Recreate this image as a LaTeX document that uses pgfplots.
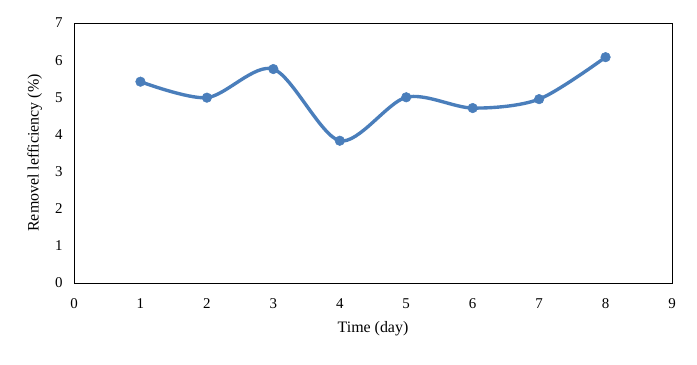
\documentclass[border=0pt]{standalone}
\usepackage{pgfplots}
\pgfplotsset{compat=1.18}
\usepackage{fontspec}
\setmainfont{Liberation Serif}
\definecolor{lineblue}{HTML}{4A7EBB}
\begin{document}
\begin{tikzpicture}[x=1bp,y=1bp]
\path[use as bounding box] (0,0) rectangle (697,364);
\begin{axis}[
  at={(74bp,81bp)}, anchor=south west,
  scale only axis, width=598bp, height=260bp,
  xmin=0, xmax=9, ymin=0, ymax=7,
  xtick={0,...,9}, ytick={0,...,7},
  major tick length=0pt,
  axis line style={line width=1pt, black},
  tick label style={font=\fontsize{15}{17}\selectfont},
  /pgf/number format/assume math mode=true,
  xticklabel style={yshift=-12bp},
  yticklabel style={xshift=-8bp},
  xlabel={Time (day)},
  ylabel={Removel lefficiency (\%)},
  label style={font=\fontsize{16}{18}\selectfont},
  xlabel style={yshift=-6bp},
  ylabel style={yshift=6bp},
]
\addplot[color=lineblue, line width=3.4pt, smooth, tension=0.5,
  mark=*, mark size=4.8bp, mark options={fill=lineblue, draw=lineblue, line width=0.5pt}]
  coordinates {(1,5.42) (2,4.99) (3,5.76) (4,3.83) (5,5.00) (6,4.71) (7,4.95) (8,6.08)};
\end{axis}
\end{tikzpicture}
\end{document}
